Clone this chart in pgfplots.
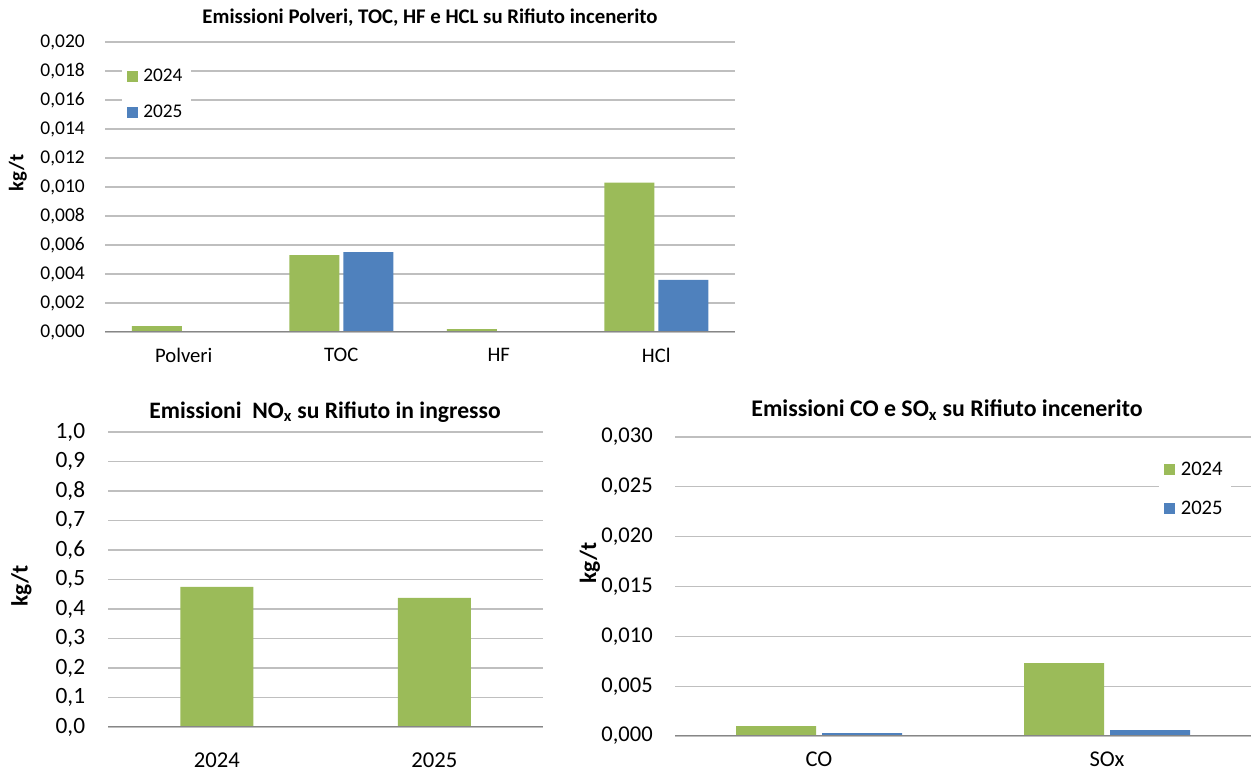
\documentclass[border=0pt]{standalone}
\usepackage{fontspec}
\setmainfont{Carlito}
\usepackage{pgfplots}
\pgfplotsset{compat=1.18}

\definecolor{verde}{HTML}{9BBB59}
\definecolor{blu}{HTML}{4F81BD}
\definecolor{griglia}{HTML}{BFBFBF}
\definecolor{asse}{HTML}{868686}

\pgfplotsset{
  pannello/.style={
    scale only axis,
    anchor=south west,
    axis line style={draw=none},
    tick style={draw=none},
    major tick length=0pt,
    ymajorgrids,
    grid style={griglia, line width=0.8pt},
    scaled y ticks=false,
    ymin=0,
    xtick=data,
    yticklabel style={anchor=east, inner sep=0pt},
    xticklabel style={anchor=north, inner sep=0pt},
    /pgf/number format/.cd, fixed, fixed zerofill, use comma, assume math mode=true,
  },
  quadretto/.style={
    legend image code/.code={\fill[#1] (0pt,-4.1pt) rectangle (8.25pt,4.1pt);}
  },
}

\begin{document}
\begin{tikzpicture}
\useasboundingbox (0,0) rectangle (938.25pt,579.75pt);

% --- Polveri, TOC, HF, HCl ---
\begin{axis}[pannello,
  at={(78.75pt,330.75pt)},
  width=472.5pt, height=217.5pt,
  xmin=-0.5, xmax=3.5, ymax=0.02,
  ytick={0,0.002,0.004,0.006,0.008,0.010,0.012,0.014,0.016,0.018,0.020},
  yticklabel style={/pgf/number format/precision=3, xshift=-15pt, font=\fontsize{14.6}{16}\selectfont},
  xticklabels={Polveri,TOC,HF,HCl},
  xticklabel style={yshift=-12pt, font=\fontsize{15.5}{17}\selectfont},
  ybar=3pt, bar width=37.5pt,
  legend style={at={(rel axis cs:0.026,0.935)}, anchor=north west, draw=none, fill=white,
    font=\fontsize{14.5}{16}\selectfont, row sep=12pt, inner sep=4pt,
    /tikz/every odd column/.style={column sep=2pt}},
  legend cell align=left,
]
\addplot[fill=verde, draw=none, quadretto] coordinates {(0,0.0004) (1,0.0053) (2,0.0002) (3,0.0103)};
\addplot[fill=blu, draw=none, quadretto] coordinates {(0,0) (1,0.0055) (2,0) (3,0.0036)};
\legend{2024,2025}
\draw[asse, line width=1pt] (rel axis cs:0,0) -- (rel axis cs:1,0);
\end{axis}
\node[font=\bfseries\fontsize{15.6}{17}\selectfont] at (322.5pt,566.25pt) {Emissioni Polveri, TOC, HF e HCL su Rifiuto incenerito};
\node[font=\bfseries\fontsize{15.5}{17}\selectfont, rotate=90] at (13.5pt,450pt) {kg/t};

% --- NOx ---
\begin{axis}[pannello,
  at={(81pt,34.5pt)},
  width=326.25pt, height=221.25pt,
  xmin=-0.5, xmax=1.5, ymax=1,
  ytick={0,0.1,0.2,0.3,0.4,0.5,0.6,0.7,0.8,0.9,1.0},
  yticklabel style={/pgf/number format/precision=1, xshift=-17pt, font=\fontsize{17.5}{19}\selectfont},
  xticklabels={2024,2025},
  xticklabel style={yshift=-19pt, font=\fontsize{17}{19}\selectfont},
  ybar, bar width=54.75pt,
]
\addplot[fill=verde, draw=none] coordinates {(0,0.475) (1,0.438)};
\draw[asse, line width=1pt] (rel axis cs:0,0) -- (rel axis cs:1,0);
\end{axis}
\node[font=\bfseries\fontsize{17.7}{19}\selectfont] at (243.75pt,270.75pt) {Emissioni\ \ NO\textsubscript{x} su Rifiuto in ingresso};
\node[font=\bfseries\fontsize{17.5}{19}\selectfont, rotate=90] at (16pt,140.25pt) {kg/t};

% --- CO e SOx ---
\begin{axis}[pannello,
  at={(506.25pt,27.75pt)},
  width=432pt, height=224.25pt,
  xmin=-0.5, xmax=1.5, ymax=0.03,
  ytick={0,0.005,0.010,0.015,0.020,0.025,0.030},
  yticklabel style={/pgf/number format/precision=3, xshift=-16.5pt, font=\fontsize{16.9}{19}\selectfont},
  xticklabels={CO,SOx},
  xticklabel style={yshift=-12pt, font=\fontsize{16.9}{19}\selectfont},
  ybar=4.5pt, bar width=60pt,
  legend style={at={(rel axis cs:0.84,0.945)}, anchor=north west, draw=none, fill=white,
    font=\fontsize{15.5}{17}\selectfont, row sep=14pt, inner sep=4pt,
    /tikz/every odd column/.style={column sep=2pt}},
  legend cell align=left,
]
\addplot[fill=verde, draw=none, quadretto] coordinates {(0,0.0010) (1,0.0073)};
\addplot[fill=blu, draw=none, quadretto] coordinates {(0,0.0003) (1,0.0006)};
\legend{2024,2025}
\draw[asse, line width=1pt] (rel axis cs:0,0) -- (rel axis cs:1,0);
\end{axis}
\node[font=\bfseries\fontsize{17.9}{19}\selectfont] at (710.25pt,272.25pt) {Emissioni CO e SO\textsubscript{x} su Rifiuto incenerito};
\node[font=\bfseries\fontsize{17.5}{19}\selectfont, rotate=90] at (442.5pt,157.5pt) {kg/t};
\end{tikzpicture}
\end{document}
